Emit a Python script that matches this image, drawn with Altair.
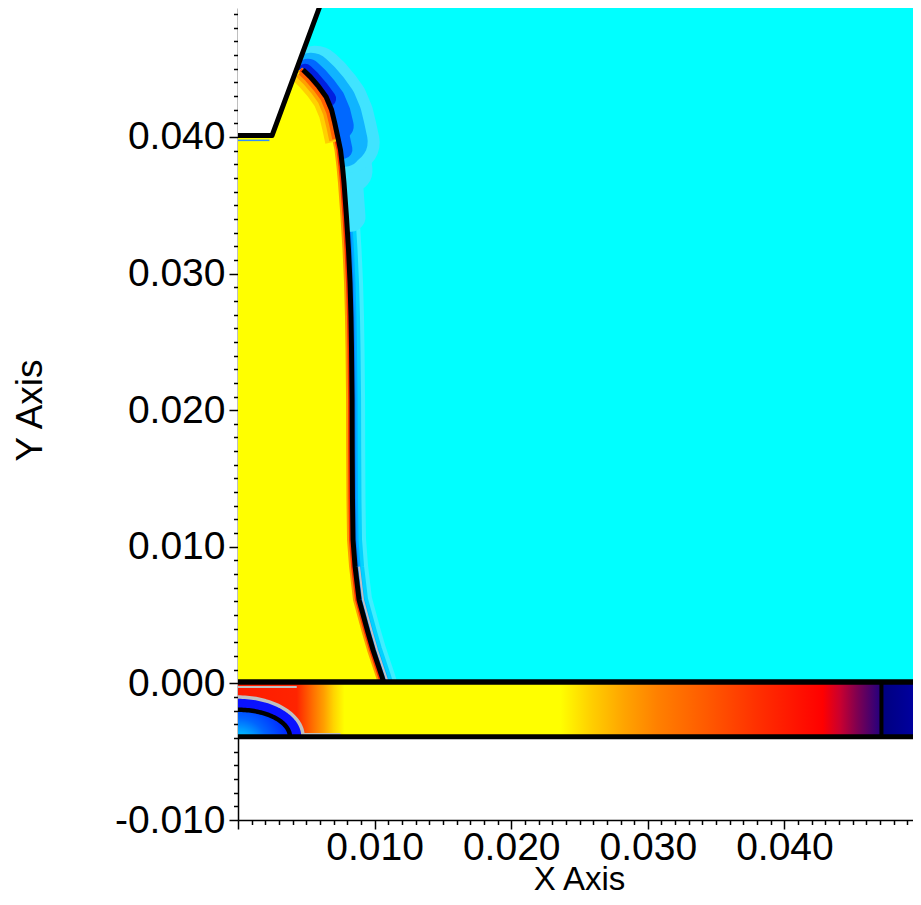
import altair as alt
import numpy as np
import pandas as pd

alt.data_transformers.disable_max_rows()

# ---------------- axes ----------------
# the view shows x up to ~0.0494 and y up to ~0.0494 (page edge / margin crop)
X_DOMAIN = [0.0, 0.04941]
Y_DOMAIN = [-0.01, 0.04944]
X_TICKS = [round(0.001 * i, 3) for i in range(0, 50)]
Y_TICKS = [round(-0.01 + 0.001 * i, 3) for i in range(0, 60)]

# ---------------- geometry ----------------
# liquid / gas interface, from the peak down to the strip
IFACE_X = [0.00476, 0.00530, 0.00590, 0.00645, 0.00685, 0.00708, 0.00730, 0.00750,
           0.00765, 0.00776, 0.00794, 0.00809, 0.00820, 0.00827, 0.00831, 0.00835,
           0.00836, 0.00838, 0.00842, 0.00857, 0.00886, 0.00952, 0.00988, 0.01054, 0.01069]
IFACE_Y = [0.04492, 0.04440, 0.04370, 0.04294, 0.04199, 0.04104, 0.04002, 0.03907,
           0.03782, 0.03664, 0.03416, 0.03174, 0.02933, 0.02684, 0.02443, 0.02076,
           0.01710, 0.01344, 0.01051, 0.00854, 0.00612, 0.00370, 0.00246, 0.00048, 0.0]

# upper-left edge of the liquid (along the wedge)
EDGE_X = [0.0, 0.00249, 0.00430]
EDGE_Y = [0.0400, 0.0400, 0.04490]

# wedge wall
WEDGE_X = [0.0, 0.00249, 0.00615]
WEDGE_Y = [0.0401, 0.0401, 0.0500]

# lower strip
STRIP_TOP = 0.0001
STRIP_BOTTOM = -0.0039
STRIP_WALL = 0.0471
STRIP_STOP_X = [0.0, 0.0236, 0.0258, 0.0282, 0.0307, 0.0343, 0.0380, 0.0404,
                0.0428, 0.0441, 0.0453, 0.0465, 0.0471]
STRIP_STOP_C = ["#ffff00", "#ffff00", "#ffd000", "#ffa500", "#ff8000", "#ff5a00",
                "#ff3000", "#ff1800", "#ff0000", "#c80030", "#800050", "#400070", "#200080"]
HALO_END = 0.0078
HALO_STOP_X = [0.0, 0.0043, 0.0055, 0.0063, 0.0070, 0.0078]
HALO_STOP_C = ["#ff1a00", "#ff2400", "#ff7000", "#ffa000", "#ffd400", "#ffff00"]

# quarter-elliptic contours at the strip's lower-left corner
OUTER_RX, OUTER_RY = 0.00476, 0.0029
INNER_RX, INNER_RY = 0.0038, 0.00197

# halo levels near the tip: (lowest y reached, stroke width, x shift, y shift, colour)
TIP_HALO = [(0.0340, 30, 4, 0, "#40e4ff"), (0.0370, 44, 8, 4, "#40e4ff"),
            (0.0395, 60, 12, 6, "#40e4ff"),
            (0.0380, 30, 5, 2, "#10b4ff"), (0.0400, 44, 8, 5, "#10b4ff"),
            (0.0390, 18, 3, 0, "#0068ff"), (0.0405, 28, 5, 3, "#0068ff"),
            (0.0420, 16, 2, 2, "#0020e0")]

# ---------------- scales / axes ----------------
FONT = "Liberation Sans"
xs = alt.Scale(domain=X_DOMAIN, nice=False, zero=False)
ys = alt.Scale(domain=Y_DOMAIN, nice=False, zero=False)
major = "abs(datum.value*100 - round(datum.value*100)) < 0.01"
lab = "replace(format(datum.value, '.3f'), '\u2212', '-')"

common = dict(
    domainColor="black", domainWidth=1.5, tickColor="black", tickWidth=1.5,
    labelFont=FONT, labelFontSize=39, labelColor="black", labelOverlap=False,
    labelFlush=False, titleFont=FONT, titleColor="black",
    titleFontWeight="normal", grid=False,
    tickSize={"condition": {"test": major, "value": 9}, "value": 4.5},
)
xaxis = alt.Axis(
    values=X_TICKS, title="X Axis",
    labelExpr=f"({major}) && datum.value > 0.005 && datum.value < 0.045 ? {lab} : ''",
    labelPadding=-1, titleX=341, titleY=69, titleAlign="center", titleFontSize=33,
    titleBaseline="alphabetic", **common)
yaxis = alt.Axis(
    values=Y_TICKS, title="Y Axis",
    labelExpr=f"({major}) && datum.value < 0.045 ? {lab} : ''",
    labelPadding=4, titleX=-226, titleY=402, titleAngle=-90, titleAlign="center",
    titleBaseline="top", titleFontSize=37, **common)


def X(f="x"):
    return alt.X(f"{f}:Q", scale=xs, axis=xaxis)


def Y(f="y"):
    return alt.Y(f"{f}:Q", scale=ys, axis=yaxis)


def rect(x0, x1, y0, y1, color):
    df = pd.DataFrame({"x": [x0], "x2": [x1], "y": [y0], "y2": [y1]})
    return alt.Chart(df).mark_rect(color=color, clip=True).encode(
        x=X(), x2=alt.X2("x2"), y=Y(), y2=alt.Y2("y2"))


def line(xv, yv, width, color, **kw):
    df = pd.DataFrame({"x": list(xv), "y": list(yv), "i": list(range(len(xv)))})
    return alt.Chart(df).mark_line(strokeWidth=width, color=color, **kw).encode(
        x=X(), y=Y(), order=alt.Order("i:Q"))


def grad(xs_, cs, x0, x1):
    span = x1 - x0
    return {"gradient": "linear", "x1": 0, "x2": 1, "y1": 0, "y2": 0,
            "stops": [{"offset": round((a - x0) / span, 4), "color": c} for a, c in zip(xs_, cs)]}


iface = pd.DataFrame({"x": IFACE_X, "y": IFACE_Y})
low = iface[iface.y <= 0.0086]

layers = []
# gas region
layers.append(rect(0.0, 0.05, 0.0, 0.05, "#00ffff"))
# blue halo around the interface
for w, c in [(26, "#40eeff"), (18, "#00d2ff"), (11, "#00acff"), (7, "#0080ff")]:
    layers.append(line(iface.x, iface.y, w, c, strokeCap="round", strokeJoin="round"))
# stronger halo near the tip, tapering downwards
for ymin, w, dx, dy, c in TIP_HALO:
    sub = iface[iface.y >= ymin]
    layers.append(line(sub.x, sub.y, w, c, xOffset=dx, yOffset=dy,
                       strokeCap="round", strokeJoin="round"))

# liquid region
liq = pd.DataFrame({"x": EDGE_X + IFACE_X, "y": EDGE_Y + IFACE_Y})
liq["y0"] = 0.0
layers.append(alt.Chart(liq).mark_area(color="#ffff00").encode(
    x=X(), y=Y(), y2=alt.Y2("y0")))

# warm band just inside the interface
layers.append(line(iface.x, iface.y, 6, "#ff9800", xOffset=-3, strokeJoin="round"))
layers.append(line(iface.x, iface.y, 3.5, "#ff3000", xOffset=-2.25, strokeJoin="round"))
peak = iface[iface.y >= 0.0399]
for w, c in [(14, "#ffd000"), (10, "#ffa000"), (7, "#ff6000"), (4, "#ff2000")]:
    d = w / 2 - 1.5
    layers.append(line(peak.x, peak.y, w, c, xOffset=-d, yOffset=d, strokeJoin="round"))
# grey contour along the lower interface
layers.append(line(low.x, low.y, 2, "#c0c0c0", xOffset=4))

# wedge (empty) region and its wall
wedge = pd.DataFrame({"x": WEDGE_X, "y": WEDGE_Y})
wedge["ytop"] = 0.05
layers.append(alt.Chart(wedge).mark_area(color="white", clip=True).encode(
    x=X(), y=Y(), y2=alt.Y2("ytop")))
layers.append(line([0.0, 0.0023], [0.03975, 0.03975], 1.5, "#2f8fff"))
layers.append(line(WEDGE_X, WEDGE_Y, 5, "black", strokeJoin="round", clip=True))
# interface contour
layers.append(line(iface.x, iface.y, 5, "black", strokeJoin="round"))
# orange smear above the strip
layers.append(line([0.0, 0.0018], [0.00045, 0.00045], 3,
                   grad([0.0, 0.0009, 0.0018], ["#ff8c00", "#ffb000", "#ffff00"], 0.0, 0.0018)))

# strip
layers.append(rect(0.0, STRIP_WALL, STRIP_BOTTOM, STRIP_TOP,
                   grad(STRIP_STOP_X, STRIP_STOP_C, 0.0, STRIP_WALL)))
layers.append(rect(STRIP_WALL, 0.05, STRIP_BOTTOM, STRIP_TOP,
                   grad([STRIP_WALL, 0.0490, 0.05],
                        ["#00007f", "#000098", "#0000a8"], STRIP_WALL, 0.05)))
layers.append(rect(0.0, HALO_END, STRIP_BOTTOM, STRIP_TOP,
                   grad(HALO_STOP_X, HALO_STOP_C, 0.0, HALO_END)))

t = np.linspace(0, np.pi / 2, 46)


def ell(rx, ry):
    df = pd.DataFrame({"x": rx * np.sin(t), "y": STRIP_BOTTOM + ry * np.cos(t)})
    df["y0"] = STRIP_BOTTOM
    return df


outer = ell(OUTER_RX, OUTER_RY)
inner = ell(INNER_RX, INNER_RY)
layers.append(alt.Chart(outer).mark_area(color="#0a12ff").encode(
    x=X(), y=Y(), y2=alt.Y2("y0")))
layers.append(alt.Chart(inner).mark_area(color={
    "gradient": "radial", "x1": 0, "y1": 1, "r1": 0, "x2": 0, "y2": 1, "r2": 1,
    "stops": [{"offset": 0, "color": "#00f0ff"}, {"offset": 0.3, "color": "#00b4ff"},
              {"offset": 0.6, "color": "#0064ff"}, {"offset": 1, "color": "#0028ff"}]}).encode(
    x=X(), y=Y(), y2=alt.Y2("y0")))
layers.append(line(outer.x, outer.y, 3.5, "#c0c0c0"))
layers.append(line(inner.x, inner.y, 4.5, "black"))
layers.append(line([0.0, 0.0043], [-0.00026, -0.00026], 2, "#c0c0c0"))
layers.append(line([0.0048, 0.0075], [-0.0037, -0.0037], 2, "#c0c0c0"))

# strip walls
layers.append(line([0.0, 0.05], [STRIP_TOP, STRIP_TOP], 5.5, "black", clip=True))
layers.append(line([0.0, 0.05], [STRIP_BOTTOM, STRIP_BOTTOM], 5, "black", clip=True))
layers.append(line([STRIP_WALL, STRIP_WALL], [STRIP_BOTTOM, STRIP_TOP], 4, "black"))

chart = alt.layer(*layers).properties(
    width=675, height=812,
    padding={"left": 230, "top": 0, "right": 0, "bottom": 77},
    autosize=alt.AutoSizeParams(type="none"),
    background="white",
).configure_view(stroke=None)

chart.save("out.html", embed_options={"renderer": "svg", "actions": False})
